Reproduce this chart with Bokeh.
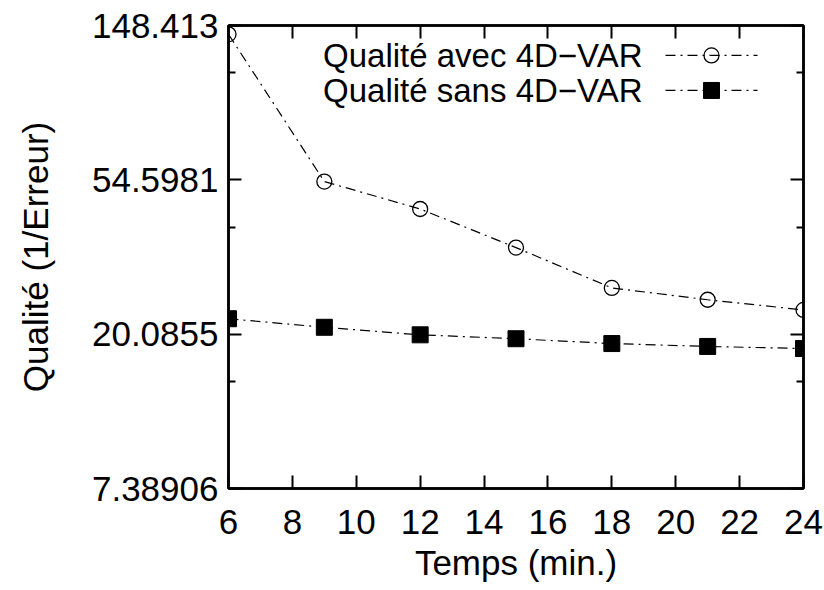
import math
from bokeh.plotting import figure
from bokeh.models import (Range1d, FixedTicker, LinearAxis, LogAxis, CustomJSTickFormatter)
from bokeh.core.properties import value
from bokeh.embed import file_html
from bokeh.resources import INLINE

# ---- data ----
temps = [6, 9, 12, 15, 18, 21, 24]
qualite_avec = [140.2, 54.0, 45.2, 35.2, 27.1, 25.1, 23.5]
qualite_sans = [22.2, 21.0, 20.0, 19.5, 18.9, 18.55, 18.3]
x_ticks = [6, 8, 10, 12, 14, 16, 18, 20, 22, 24]
y_tick_values = [math.exp(2), math.exp(3), math.exp(4), math.exp(5)]
y_tick_labels = ["7.38906", "20.0855", "54.5981", "148.413"]
y_minor_ticks = [2 * math.exp(2), 2 * math.exp(3), 2 * math.exp(4)]
label_avec = "Qualité avec 4D\u2212VAR"
label_sans = "Qualité sans 4D\u2212VAR"

FONT = "Liberation Sans"
FS = "35px"
LEG_FS = "33px"
DASH = "10 5 2 5"

p = figure(width=824, height=590, output_backend="svg", toolbar_location=None,
           x_range=Range1d(6, 24), y_range=Range1d(math.exp(2), math.exp(5)),
           y_axis_type="log", x_axis_location=None, y_axis_location=None)
p.min_border_left = 228
p.min_border_right = 21
p.min_border_top = 25
p.min_border_bottom = 102
p.grid.visible = False
p.outline_line_color = "black"
p.outline_line_width = 2.5
p.background_fill_color = "white"
p.border_fill_color = "white"

fmt = CustomJSTickFormatter(args=dict(vals=y_tick_values, labels=y_tick_labels), code="""
for (let i = 0; i < vals.length; i++) {
  if (Math.abs(Math.log(vals[i]) - Math.log(tick)) < 1e-6) return labels[i];
}
return '';
""")

def style_axis(ax, show_labels, minor):
    ax.axis_line_color = "black"
    ax.axis_line_width = 2.5
    ax.major_tick_in = 13
    ax.major_tick_out = 0
    ax.major_tick_line_width = 2
    ax.major_tick_line_color = "black"
    if minor:
        ax.minor_tick_in = 7
        ax.minor_tick_out = 0
        ax.minor_tick_line_width = 2
        ax.minor_tick_line_color = "black"
    else:
        ax.minor_tick_line_color = None
    ax.major_label_text_font = FONT
    ax.major_label_text_font_size = FS
    ax.major_label_text_color = "black"
    ax.axis_label_text_font = FONT
    ax.axis_label_text_font_size = FS
    ax.axis_label_text_font_style = "normal"
    ax.axis_label_text_color = "black"
    if not show_labels:
        ax.major_label_text_font_size = "0px"
        ax.major_label_text_color = None

xb = LinearAxis(ticker=FixedTicker(ticks=x_ticks), axis_label="Temps (min.)")
style_axis(xb, True, False)
xb.major_label_standoff = 21
xb.axis_label_standoff = 6
p.add_layout(xb, "below")

xt = LinearAxis(ticker=FixedTicker(ticks=x_ticks))
style_axis(xt, False, False)
p.add_layout(xt, "above")

yl = LogAxis(ticker=FixedTicker(ticks=y_tick_values, minor_ticks=y_minor_ticks),
             formatter=fmt, axis_label="Qualité (1/Erreur)")
style_axis(yl, True, True)
yl.major_label_standoff = 10
yl.axis_label_standoff = 34
p.add_layout(yl, "left")

yr = LogAxis(ticker=FixedTicker(ticks=y_tick_values, minor_ticks=y_minor_ticks))
style_axis(yr, False, True)
p.add_layout(yr, "right")

# series
p.line(temps, qualite_avec, line_color="black", line_width=1.2, line_dash=DASH)
p.scatter(temps, qualite_avec, marker="circle", size=15, line_color="black",
          line_width=1.3, fill_alpha=0)
p.line(temps, qualite_sans, line_color="black", line_width=1.2, line_dash=DASH)
p.scatter(temps, qualite_sans, marker="square", size=16, line_color="black",
          fill_color="black")

# legend (gnuplot style: text right-aligned, sample on the right)
leg_text_x = 18.96
leg_x0, leg_x1 = 19.68, 22.56
leg_xm = (leg_x0 + leg_x1) / 2
leg_y = [math.exp(4.806), math.exp(4.579)]
p.text([leg_text_x, leg_text_x], leg_y, text=[label_avec, label_sans],
       text_align="right", text_baseline="middle", text_font=value(FONT),
       text_font_size=LEG_FS, text_color="black")
p.line([leg_x0, leg_x1], [leg_y[0], leg_y[0]], line_color="black", line_width=1.2, line_dash=DASH)
p.scatter([leg_xm], [leg_y[0]], marker="circle", size=15, line_color="black",
          line_width=1.3, fill_alpha=0)
p.line([leg_x0, leg_x1], [leg_y[1], leg_y[1]], line_color="black", line_width=1.2, line_dash=DASH)
p.scatter([leg_xm], [leg_y[1]], marker="square", size=16, line_color="black", fill_color="black")

open("out.html", "w").write(file_html(p, INLINE))
